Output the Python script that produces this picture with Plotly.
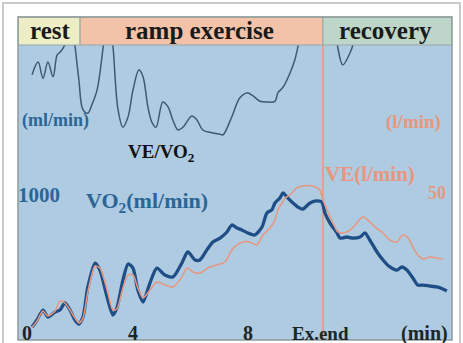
import plotly.graph_objects as go

# ---------------- data ----------------
# time in minutes
vo2_t = [0.49, 0.66, 0.87, 1.04, 1.29, 1.46, 1.63, 1.81, 1.98, 2.12, 2.26, 2.43, 2.68, 2.85,
         3.10, 3.30, 3.44, 3.65, 3.83, 4.00, 4.17, 4.35, 4.59, 4.83, 5.11, 5.39, 5.70, 5.91,
         6.16, 6.33, 6.57, 6.78, 7.03, 7.27, 7.44, 7.62, 7.79, 8.00, 8.24, 8.49, 8.66, 8.83,
         8.94, 9.11, 9.22, 9.36, 9.53, 9.74, 9.91, 10.16, 10.40, 10.57, 10.68, 10.85, 11.10,
         11.20, 11.44, 11.65, 11.90, 12.07, 12.24, 12.49, 12.70, 12.94, 13.18, 13.36, 13.53,
         13.74, 13.91, 14.09, 14.33, 14.57, 14.78, 14.92]
vo2 = [22, 74, 148, 96, 133, 148, 200, 148, 74, 44, 96, 319, 496, 444,
       244, 111, 163, 370, 489, 459, 296, 207, 348, 459, 407, 393, 496, 578,
       519, 519, 593, 652, 681, 726, 778, 756, 741, 719, 704, 763, 867, 889,
       941, 978, 1015, 985, 948, 911, 896, 941, 956, 948, 867, 793, 719,
       681, 689, 681, 689, 719, 667, 578, 519, 467, 444, 467, 444,
       385, 333, 333, 326, 319, 304, 289]

ve_t = [0.49, 0.66, 0.87, 1.04, 1.29, 1.46, 1.63, 1.81, 1.98, 2.12, 2.26, 2.43, 2.68, 2.85,
        3.10, 3.30, 3.44, 3.65, 3.83, 4.00, 4.17, 4.35, 4.59, 4.83, 5.11, 5.39, 5.70, 5.88,
        6.09, 6.33, 6.61, 6.92, 7.20, 7.44, 7.62, 7.83, 8.07, 8.31, 8.52, 8.77, 8.94, 9.04,
        9.18, 9.29, 9.46, 9.70, 9.91, 10.26, 10.50, 10.61, 10.78, 10.96, 11.13, 11.30, 11.55,
        11.79, 12.00, 12.17, 12.42, 12.70, 12.94, 13.18, 13.39, 13.57, 13.74, 13.91, 14.09,
        14.33, 14.57, 14.78]
ve = [1.1, 3.3, 7.0, 5.2, 7.0, 10.7, 10.0, 7.4, 4.4, 2.6, 4.4, 14.1, 23.7, 23.0,
      14.8, 7.4, 7.8, 15.6, 20.4, 20.4, 15.6, 11.9, 14.8, 17.8, 16.7, 15.9, 19.6, 23.0,
      21.5, 21.1, 23.0, 24.1, 25.2, 29.6, 31.5, 32.6, 32.6, 31.5, 35.2, 37.8, 40.7, 44.4,
      47.0, 48.9, 50.0, 52.6, 53.3, 53.3, 51.9, 48.1, 43.7, 39.6, 36.3, 35.9, 37.0,
      39.6, 41.9, 40.7, 38.1, 35.9, 33.3, 32.6, 35.2, 34.1, 30.7, 27.8, 26.3,
      27.0, 26.7, 26.3]

ratio_t = [0.49, 0.70, 0.87, 1.04, 1.22, 1.36, 1.46, 1.57, 1.70, 1.81, 1.91, 1.98, 2.12, 2.26,
           2.43, 2.57, 2.75, 2.92, 2.99, 3.06, 3.20, 3.30, 3.48, 3.65, 3.83, 4.00, 4.21, 4.35,
           4.52, 4.66, 4.80, 5.04, 5.22, 5.39, 5.57, 5.74, 6.05, 6.23, 6.43, 6.75, 7.03, 7.13,
           7.44, 7.72, 7.97, 8.17, 8.42, 8.66, 8.94, 9.04, 9.22, 9.46, 9.63, 9.74, 9.84, 9.95,
           10.50, 11.03, 11.13, 11.30, 11.55, 11.65, 11.76]
ratio = [37.9, 39.7, 37.4, 39.7, 37.6, 40.7, 41.1, 41.7, 42.9, 44.3, 44.3, 42.1, 37.1, 32.9,
         32.4, 33.6, 35.7, 40.4, 42.9, 45.0, 45.0, 42.1, 32.9, 30.4, 31.9, 35.7, 38.6, 37.6,
         33.3, 31.1, 30.4, 34.0, 33.3, 31.4, 30.0, 30.4, 32.0, 31.4, 30.0, 29.6, 29.4, 29.3,
         31.9, 34.6, 35.3, 34.9, 34.1, 34.0, 34.1, 35.3, 36.1, 38.1, 40.0, 41.9, 44.3, 46.1,
         55.0, 45.0, 41.7, 39.3, 41.0, 42.1, 45.0]

phase_names = ["rest", "ramp exercise", "recovery"]
phase_bounds = [0.0, 2.16, 10.61, 15.1]
ex_end = 10.61
x_ticks = [0, 4, 8]
x_tick_text = ["0", "4", "8"]

# ---------------- style ----------------
W, H = 463, 343
L, R, T, B = 18, 452, 17, 340      # plot area in pixels


def px_x(p):
    return (p - L) / (R - L)


def px_y(p):
    return (B - p) / (B - T)


PANEL = "#aecbe1"
BLUE = "#1f4d86"
BLUE_TXT = "#2a6596"
SALMON = "#e8967e"
DARK = "#1b2626"
FONT = "Liberation Serif"

fig = go.Figure()
fig.add_trace(go.Scatter(x=ratio_t, y=ratio, yaxis="y3", mode="lines",
                         line=dict(color="#3d5a72", width=1.5, shape="spline", smoothing=1.0),
                         hoverinfo="skip"))
fig.add_trace(go.Scatter(x=ve_t, y=ve, yaxis="y2", mode="lines",
                         line=dict(color=SALMON, width=1.5, shape="spline", smoothing=0.7),
                         hoverinfo="skip"))
fig.add_trace(go.Scatter(x=vo2_t, y=vo2, yaxis="y", mode="lines",
                         line=dict(color=BLUE, width=3.3, shape="spline", smoothing=0.7),
                         hoverinfo="skip"))

shapes = []
# outer frame
shapes.append(dict(type="rect", xref="paper", yref="paper",
                   x0=px_x(3), x1=px_x(460), y0=px_y(346), y1=px_y(3),
                   line=dict(color="#b9b9b9", width=1.5), fillcolor="rgba(0,0,0,0)", layer="below"))
# header bands
head_cols = ["#eeeec6", "#f2c3a9", "#bdd6c9"]
for i, c in enumerate(head_cols):
    shapes.append(dict(type="rect", xref="x", yref="paper",
                       x0=phase_bounds[i], x1=phase_bounds[i + 1], y0=px_y(45), y1=1,
                       fillcolor=c, line=dict(color="#9aa6a6", width=1), layer="above"))
# Ex. end line
shapes.append(dict(type="line", xref="x", yref="paper", x0=ex_end, x1=ex_end,
                   y0=0, y1=px_y(45), line=dict(color="#e2a08e", width=2), layer="below"))
# panel border
shapes.append(dict(type="rect", xref="paper", yref="paper", x0=0, x1=1, y0=0, y1=1,
                   line=dict(color="#8f9a9c", width=1.5), fillcolor="rgba(0,0,0,0)", layer="above"))

ann = []


def txt(text, x, y, size, color, xref="paper", xanchor="center", xshift=0):
    ann.append(dict(text="<b>" + text + "</b>", x=x, y=y, xref=xref, yref="paper",
                    xanchor=xanchor, yanchor="middle", showarrow=False, xshift=xshift,
                    font=dict(family=FONT, size=size, color=color)))


# header labels
hx = [1.11, 6.33, 12.8]
for name, xc in zip(phase_names, hx):
    txt(name, xc, px_y(31), 25, "#1a1a1a", xref="x")

txt("(ml/min)", px_x(55), px_y(120), 18, BLUE_TXT)
txt("VE/VO<sub>2</sub>", px_x(161), px_y(153), 19, "#111")
txt("1000", px_x(39), px_y(195), 21, BLUE_TXT)
txt("VO<sub>2</sub>(ml/min)", px_x(147), px_y(202), 22, BLUE_TXT)
txt("VE(l/min)", px_x(370), px_y(174), 21, SALMON)
txt("50", px_x(437), px_y(193), 18, "#e39a7c")
txt("(l/min)", px_x(413), px_y(122), 19, SALMON)

# x tick labels
for v, t in zip(x_ticks, x_tick_text):
    if v == 0:
        txt(t, v, px_y(333), 20, DARK, xref="x", xanchor="left", xshift=2)
    else:
        txt(t, v, px_y(333), 20, DARK, xref="x")
txt("Ex.end", 10.54, px_y(333), 19, DARK, xref="x")
txt("(min)", 14.16, px_y(333), 20, DARK, xref="x")

fig.update_layout(
    width=W, height=H,
    margin=dict(l=L, r=W - R, t=T, b=H - B),
    paper_bgcolor="white", plot_bgcolor=PANEL,
    showlegend=False,
    xaxis=dict(range=[0, 15.1], showgrid=False, zeroline=False, showticklabels=False,
               ticks="", showline=False),
    yaxis=dict(range=[-74, 2319], showgrid=False, zeroline=False, showticklabels=False,
               ticks="", showline=False),
    yaxis2=dict(range=[-3.7, 115.9], overlaying="y", side="right", showgrid=False,
                zeroline=False, showticklabels=False, ticks="", showline=False),
    yaxis3=dict(range=[0, 46.14], overlaying="y", side="right", showgrid=False,
                zeroline=False, showticklabels=False, ticks="", showline=False),
    shapes=shapes, annotations=ann,
)

fig.write_html("out.html")
